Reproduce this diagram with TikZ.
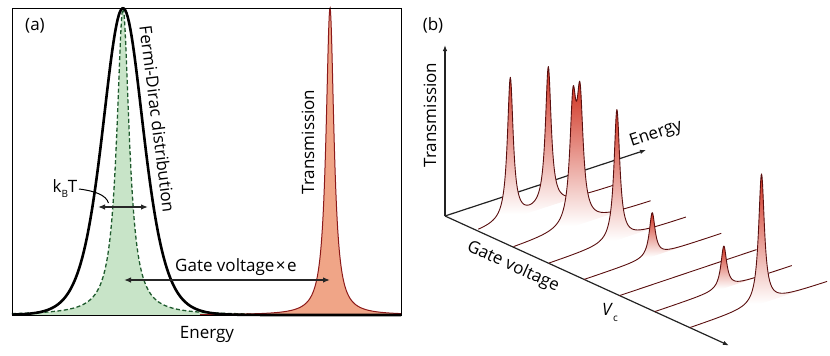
\documentclass[tikz,border=0pt]{standalone}
\usepackage{fontspec}
\setmainfont{Open Sans}
\usetikzlibrary{arrows.meta}
\definecolor{gfill}{RGB}{200,228,200}
\definecolor{gline}{RGB}{30,90,45}
\definecolor{rfill}{RGB}{240,165,135}
\definecolor{rline}{RGB}{140,25,25}
\definecolor{pk}{RGB}{208,50,32}
\definecolor{tline}{RGB}{90,15,15}
\definecolor{axc}{RGB}{35,35,35}
\newcommand\pktrace[5]{%
  \begin{scope}
    \clip plot[domain=0:137,samples=275,variable=\t] ({#1+\t},{#2-0.336*\t-(#3)}) -- cycle;
    \fill[white] (#1,0) rectangle ({#1+137},356);
    \shade[top color=pk,bottom color=white] (#1,#4) rectangle ({#1+137},#5);
  \end{scope}
  \draw[trace] plot[domain=0:137,samples=275,variable=\t] ({#1+\t},{#2-0.336*\t-(#3)});
}
\begin{document}
\begin{tikzpicture}[x=1pt,y=-1pt,
  trace/.style={draw=tline,line width=0.9pt,line join=round},
  lbl/.style={inner sep=0pt,font=\fontsize{17}{20}\selectfont},
  axisline/.style={draw=axc,line width=1.2pt,-{Latex[length=6pt,width=4.5pt]}},
  dimarrow/.style={draw=black!85,line width=1.3pt,{Latex[length=7pt,width=5.5pt]}-{Latex[length=7pt,width=5.5pt]}},
  declare function={
    lor(\p,\c,\a,\g)=\a/(1+((\p-\c)/\g)^2);
    fd(\p)=307*(1/cosh(min(abs((\p-123)/27.5),6)))^2;
  }]
\useasboundingbox (0,0) rectangle (830,356);
% ---------- panel (a)
\coordinate (bl) at (12,315);
\coordinate (tr) at (401,8);
\fill[gfill] (12,315) -- plot[domain=12:401,samples=500] (\x,{315-lor(\x,123,307,7.5)}) -- (401,315) -- cycle;
\draw[gline,line width=1.3pt,dash pattern=on 4pt off 2.5pt] plot[domain=12:401,samples=500] (\x,{315-lor(\x,123,307,7.5)});
\fill[rfill] (200,315) -- plot[domain=200:401,samples=500] (\x,{315-lor(\x,330,307,4.8)}) -- (401,315) -- cycle;
\draw[rline,line width=1pt] plot[domain=200:401,samples=500] (\x,{315-lor(\x,330,307,4.8)});
\draw[black,line width=2.6pt,line join=round] plot[domain=12:401,samples=300] (\x,{315-fd(\x)});
\draw[line width=0.8pt] (bl) rectangle (tr);
\node[lbl] (la) at (35,25.5) {(a)};
\node[lbl] (en) at (207,334) {Energy};
\node[lbl,rotate=-82.8] (fdl) at (157.5,119) {Fermi-Dirac distribution};
\node[lbl,rotate=90] (tm) at (308,142) {Transmission};
\node[lbl] (kt) at (65,189) {k\raisebox{-5pt}{\fontsize{10}{10}\selectfont B}T};
\node[lbl,anchor=west] (gv) at (175,267) {Gate voltage\hspace{1.5pt}×\hspace{1.5pt}e};
\coordinate (k1) at (79,189);
\coordinate (k2) at (108.5,203);
\draw[line width=1pt] (k1) .. controls (95,191) and (106,195) .. (k2);
\coordinate (ka) at (98,207);
\coordinate (kb) at (148,207);
\draw[dimarrow] (ka) -- (kb);
\coordinate (ga) at (124,280);
\coordinate (gb) at (330,280);
\draw[dimarrow] (ga) -- (gb);
% ---------- panel (b)
\coordinate (O) at (445,216);
\coordinate (Ty) at (445,45);
\coordinate (Ex) at (646,150);
\coordinate (Gx) at (729,345.5);
\draw[axisline] (O) -- (Ty);
\draw[axisline] (O) -- (Ex);
\draw[axisline] (O) -- (Gx);
\pktrace{478.3}{231.2}{lor(\t,32,142,3.5)+lor(\t,70,140,3.5)}{67}{214}
\pktrace{513.6}{247.4}{lor(\t,59.4,114,3.8)+lor(\t,66.4,117,3.8)}{83}{226}
\pktrace{548.9}{263.4}{lor(\t,68,131,3.5)}{109}{240.5}
\pktrace{584.2}{279.5}{lor(\t,68,44,3.5)}{213}{256.7}
\coordinate (s5) at (619.5,295.6);
\coordinate (e5) at (756.5,249.6);
\draw[trace] (s5) -- (e5);
\pktrace{654.8}{311.7}{lor(\t,69,42.5,3.5)}{246}{288.5}
\pktrace{690.1}{327.8}{lor(\t,71.4,130,3.5)}{174}{303.8}
\node[lbl] (lb) at (433,25.5) {(b)};
\node[lbl,rotate=90] (tm2) at (430,115) {Transmission};
\node[lbl,rotate=18.2] (en2) at (656,134) {Energy};
\node[lbl,rotate=-24.5] (gv2) at (513,267) {Gate voltage};
\node[lbl] (vc) at (610,312) {\textit{V}\raisebox{-6pt}{\fontsize{10}{10}\selectfont c}};
\end{tikzpicture}
\end{document}
